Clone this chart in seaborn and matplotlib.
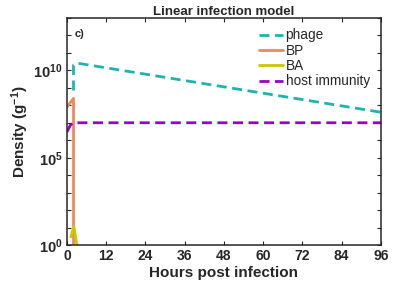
import numpy as np
import pandas as pd
import seaborn as sns
import matplotlib.pyplot as plt

# data (hours, density per gram)
phage_t = [2.0, 2.0, 3.0, 96.0]
phage_v = [7e8, 2e10, 2.6e10, 4e7]
bp_t = [0.0, 2.0, 2.0, 2.0]
bp_v = [8e7, 2.5e8, 2.5e8, 1e-2]
ba_t = [1.2, 2.1, 3.5]
ba_v = [3.0, 12.0, 0.3]
host_t = [0.0, 1.0, 1.8, 96.0]
host_v = [3e6, 7e6, 1e7, 1e7]

series = ['phage', 'BP', 'BA', 'host immunity']
colors = {'phage': '#1cb4b0', 'BP': '#f0885a', 'BA': '#c8c800', 'host immunity': '#9a00cc'}
dashed = {'phage': True, 'BP': False, 'BA': False, 'host immunity': True}

df = pd.concat([
    pd.DataFrame({'t': phage_t, 'v': phage_v, 's': 'phage'}),
    pd.DataFrame({'t': bp_t, 'v': bp_v, 's': 'BP'}),
    pd.DataFrame({'t': ba_t, 'v': ba_v, 's': 'BA'}),
    pd.DataFrame({'t': host_t, 'v': host_v, 's': 'host immunity'}),
])

sns.set_style('ticks')
plt.rcParams['font.family'] = ['Liberation Sans', 'DejaVu Sans']
plt.rcParams['mathtext.fontset'] = 'custom'
plt.rcParams['mathtext.rm'] = 'Liberation Sans:bold'
plt.rcParams['mathtext.it'] = 'Liberation Sans:bold'
plt.rcParams['mathtext.bf'] = 'Liberation Sans:bold'

fig = plt.figure(figsize=(4.01, 2.89), dpi=100)
ax = fig.add_axes([0.167, 0.152, 0.783, 0.786])

for s in series:
    d = df[df.s == s]
    sns.lineplot(data=d, x='t', y='v', ax=ax, color=colors[s], lw=2,
                 sort=False, estimator=None, label=s,
                 linestyle='--' if dashed[s] else '-')
for line in ax.get_lines():
    if line.get_linestyle() == '--':
        line.set_dashes((3.6, 2.0))

ax.set_yscale('log')
ax.set_xlim(0, 96)
ax.set_ylim(1, 1e13)
ax.set_xticks(np.arange(0, 97, 12))
ax.set_yticks([1, 1e5, 1e10])
ax.set_yticklabels([r'$10^0$', r'$10^5$', r'$10^{10}$'])
ax.set_yticks([10.0 ** k for k in range(14) if k % 5], minor=True)
ax.yaxis.set_minor_formatter(plt.NullFormatter())
ax.tick_params(direction='in', top=True, right=True, which='both', labelsize=10, width=0.8, length=3, pad=3)
ax.tick_params(axis='y', labelsize=10.5)
for lab in ax.get_xticklabels():
    lab.set_fontweight('bold')
for sp in ax.spines.values():
    sp.set_linewidth(1.1)
    sp.set_color('#262626')

ax.set_xlabel('Hours post infection', fontsize=11, fontweight='bold', labelpad=2)
ax.set_ylabel(r'Density (g$^{-1}$)', fontsize=11, fontweight='bold', labelpad=2)
ax.set_title('Linear infection model', fontsize=9.5, fontweight='bold', pad=2)
ax.text(0.025, 0.95, 'c)', transform=ax.transAxes, fontsize=8, fontweight='bold', va='top')

leg = ax.legend(loc='upper right', frameon=False, fontsize=9.8, handlelength=1.8,
                handletextpad=0.15, labelspacing=0.1, borderaxespad=0.2,
                bbox_to_anchor=(0.99, 0.99))

fig.savefig('out.png', dpi=100)
